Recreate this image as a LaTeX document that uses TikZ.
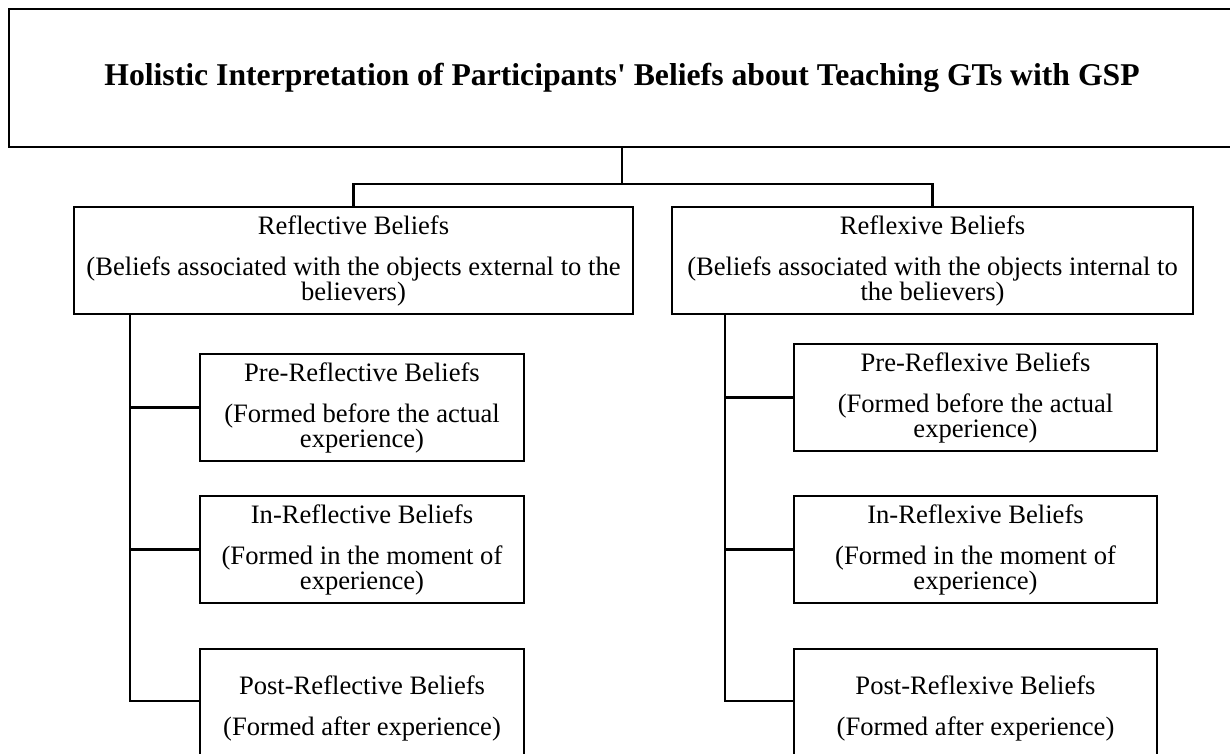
\documentclass[tikz,border=0pt]{standalone}
\usepackage{fontspec}
\setmainfont{Liberation Serif}
\begin{document}
\begin{tikzpicture}[x=1pt,y=-1pt,
  box/.style={draw=black,line width=2.6pt,rectangle,inner sep=0pt,align=center,
    font=\fontsize{26.6}{25}\selectfont},
  link/.style={draw=black,line width=2.6pt},
  titlebox/.style={draw=black,line width=2.8pt,rectangle,inner sep=0pt,
    font=\fontsize{31.7}{36}\selectfont\bfseries}]
\useasboundingbox (0,0) rectangle (1230,754);
% title
\node[titlebox,minimum width=1226pt,minimum height=138pt] (title) at (622,78)
  {\raisebox{-3pt}{Holistic Interpretation of Participants\textquotesingle{} Beliefs about Teaching GTs with GSP}};
% level 2
\node[box,minimum width=559pt,minimum height=107pt] (refl) at (353.5,260.5)
  {Reflective Beliefs\\[16pt](Beliefs associated with the objects external to the\\believers)};
\node[box,minimum width=521pt,minimum height=107pt] (refx) at (932.5,260.5)
  {Reflexive Beliefs\\[16pt](Beliefs associated with the objects internal to\\the believers)};
% left subs
\node[box,minimum width=324pt,minimum height=107pt] (lpre) at (362,407.5)
  {Pre-Reflective Beliefs\\[16pt](Formed before the actual\\experience)};
\node[box,minimum width=324pt,minimum height=107pt] (lin) at (362,549.5)
  {In-Reflective Beliefs\\[16pt](Formed in the moment of\\experience)};
\node[box,minimum width=324pt,minimum height=118pt] (lpost) at (362,708)
  {Post-Reflective Beliefs\\[16pt](Formed after experience)};
% right subs
\node[box,minimum width=363pt,minimum height=107pt] (rpre) at (975.5,397.5)
  {Pre-Reflexive Beliefs\\[16pt](Formed before the actual\\experience)};
\node[box,minimum width=363pt,minimum height=107pt] (rin) at (975.5,549.5)
  {In-Reflexive Beliefs\\[16pt](Formed in the moment of\\experience)};
\node[box,minimum width=363pt,minimum height=118pt] (rpost) at (975.5,708)
  {Post-Reflexive Beliefs\\[16pt](Formed after experience)};
% connectors
\coordinate (hub) at (622,184);
\draw[link] (title.south) -- (hub);
\draw[link] (refl.north) |- (hub) -| (refx.north);
\coordinate (lspine) at (130,701);
\draw[link] (refl.south -| lspine) -- (lspine) -- (lspine -| lpost.west);
\draw[link] (lpre.west) -- (lpre.west -| lspine);
\draw[link] (lin.west) -- (lin.west -| lspine);
\coordinate (rspine) at (725,701);
\draw[link] (refx.south -| rspine) -- (rspine) -- (rspine -| rpost.west);
\draw[link] (rpre.west) -- (rpre.west -| rspine);
\draw[link] (rin.west) -- (rin.west -| rspine);
\end{tikzpicture}
\end{document}
